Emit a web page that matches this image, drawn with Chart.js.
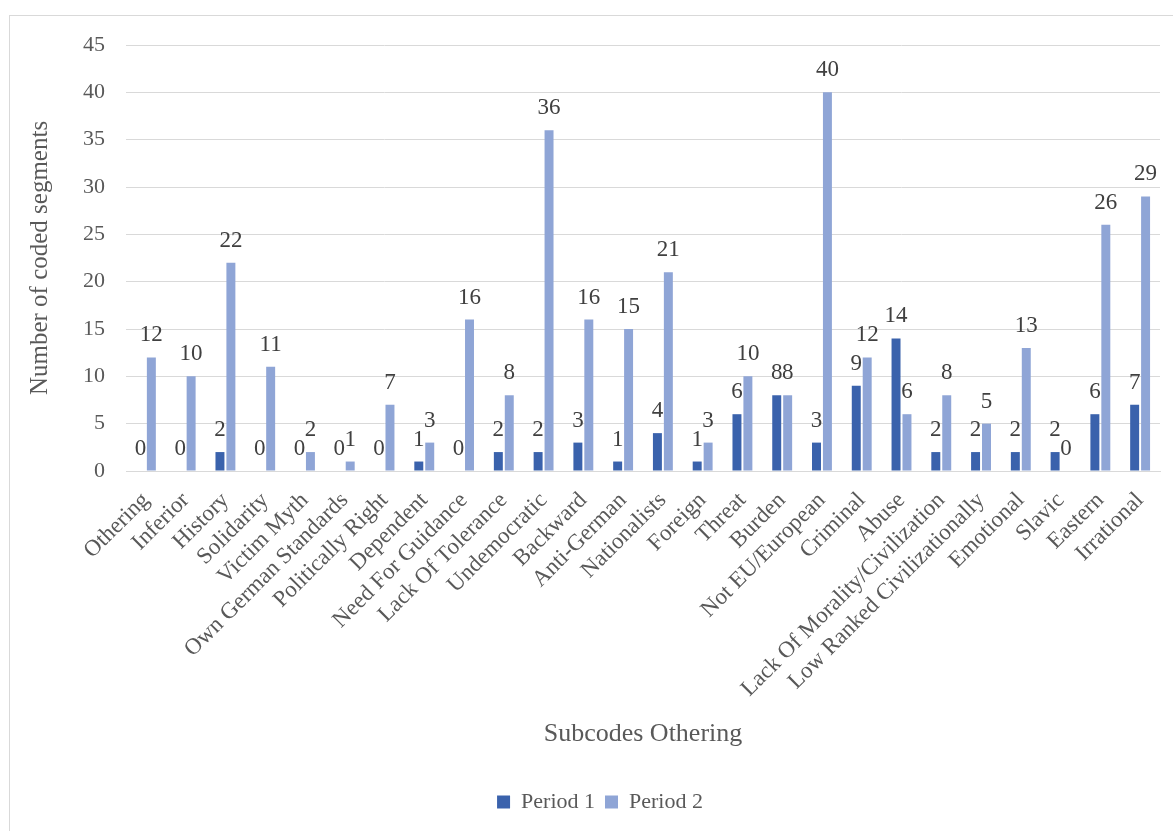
<!DOCTYPE html>
<html>
<head>
<meta charset="utf-8">
<script src="https://cdn.jsdelivr.net/npm/chart.js@4.4.1/dist/chart.umd.min.js"></script>
<style>
  html, body { margin: 0; padding: 0; background: #fff; overflow: hidden; }
  #frame { position: absolute; left: 9px; top: 15px; width: 1300px; height: 900px; border: 1px solid #d9d9d9; }
  #wrap { position: absolute; left: 0; top: 0; width: 1173px; height: 831px; }
</style>
</head>
<body>
<div id="frame"></div>
<div id="wrap"><canvas id="chart"></canvas></div>
<script>
// categories + values
const categories = [
  'Othering', 'Inferior', 'History', 'Solidarity', 'Victim Myth', 'Own German Standards',
  'Politically Right', 'Dependent', 'Need For Guidance', 'Lack Of Tolerance', 'Undemocratic',
  'Backward', 'Anti-German', 'Nationalists', 'Foreign', 'Threat', 'Burden', 'Not EU/European',
  'Criminal', 'Abuse', 'Lack Of Morality/Civilization', 'Low Ranked Civilizationally',
  'Emotional', 'Slavic', 'Eastern', 'Irrational'
];
const period1 = [0, 0, 2, 0, 0, 0, 0, 1, 0, 2, 2, 3, 1, 4, 1, 6, 8, 3, 9, 14, 2, 2, 2, 2, 6, 7];
const period2 = [12, 10, 22, 11, 2, 1, 7, 3, 16, 8, 36, 16, 15, 21, 3, 10, 8, 40, 12, 6, 8, 5, 13, 0, 26, 29];
const yTicks = [0, 5, 10, 15, 20, 25, 30, 35, 40, 45];

const FONT = '"Liberation Serif", "Times New Roman", serif';
const GREY = '#595959';

// draws the value above every bar
const valueLabels = {
  id: 'valueLabels',
  afterDatasetsDraw(chart) {
    const ctx = chart.ctx;
    ctx.save();
    ctx.font = '23px ' + FONT;
    ctx.fillStyle = '#404040';
    ctx.textAlign = 'center';
    ctx.textBaseline = 'alphabetic';
    chart.data.datasets.forEach((ds, i) => {
      chart.getDatasetMeta(i).data.forEach((bar, j) => {
        ctx.fillText(String(ds.data[j]), bar.x, bar.y - 16);
      });
    });
    ctx.restore();
  }
};

// nudge the legend so it sits where the original one does
const legendShift = {
  id: 'legendShift',
  afterLayout(chart) {
    chart.legend.left += 20;
    chart.legend.right += 20;
  }
};

new Chart(document.getElementById('chart'), {
  type: 'bar',
  data: {
    labels: categories,
    datasets: [
      { label: 'Period 1', data: period1, backgroundColor: '#3A62AC', categoryPercentage: 0.55, barPercentage: 0.82 },
      { label: 'Period 2', data: period2, backgroundColor: '#8FA5D6', categoryPercentage: 0.55, barPercentage: 0.82 }
    ]
  },
  options: {
    responsive: true,
    maintainAspectRatio: false,
    animation: false,
    layout: { padding: { left: 0, top: 45, right: 13, bottom: 8 } },
    plugins: {
      tooltip: { enabled: false },
      legend: {
        position: 'bottom',
        labels: {
          boxWidth: 13,
          boxHeight: 13,
          padding: 10,
          color: GREY,
          font: { family: FONT, size: 22 }
        }
      }
    },
    scales: {
      x: {
        grid: { display: false },
        border: { color: '#d9d9d9', width: 1 },
        ticks: {
          color: GREY,
          font: { family: FONT, size: 23 },
          minRotation: 45,
          maxRotation: 45,
          autoSkip: false,
          padding: 8
        },
        title: {
          display: true,
          text: 'Subcodes Othering',
          color: GREY,
          font: { family: FONT, size: 26 },
          padding: { top: 0, bottom: 31 }
        },
        afterFit(scale) { scale.height = 310; }
      },
      y: {
        min: 0,
        max: 45,
        grid: { color: '#d9d9d9', drawTicks: false },
        border: { display: false },
        ticks: {
          color: GREY,
          font: { family: FONT, size: 22 },
          padding: 21
        },
        afterBuildTicks(scale) { scale.ticks = yTicks.map(v => ({ value: v })); },
        title: {
          display: true,
          text: 'Number of coded segments',
          color: GREY,
          font: { family: FONT, size: 25 },
          padding: { top: 25, bottom: 0 }
        },
        afterFit(scale) { scale.width = 126; }
      }
    }
  },
  plugins: [valueLabels, legendShift]
});
</script>
</body>
</html>
